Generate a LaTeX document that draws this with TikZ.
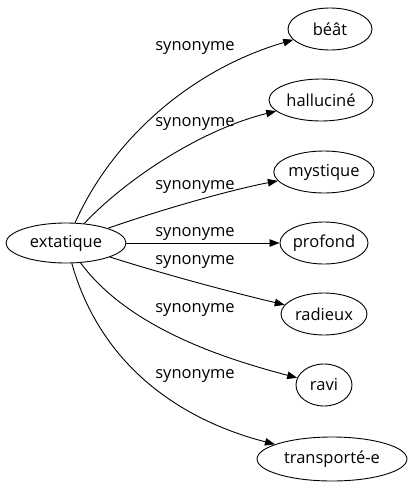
\documentclass[tikz,border=0pt]{standalone}
\usepackage{fontspec}
\setmainfont{Open Sans}
\usetikzlibrary{arrows.meta,shapes.geometric}
\begin{document}
\begin{tikzpicture}[x=1pt,y=-1pt,line width=0.9pt,
  word/.style={draw,ellipse,inner sep=0pt,font=\fontsize{16.5}{18}\selectfont},
  lbl/.style={font=\fontsize{16.5}{18}\selectfont,inner sep=0pt},
  edge/.style={draw,-{Triangle[length=10pt,width=7.5pt]}}]
\useasboundingbox (0,0) rectangle (413,491);
\node[word,minimum width=120pt,minimum height=40pt] (ext) at (66,243) {extatique};
\node[word,minimum width=84pt,minimum height=42pt] (beat) at (330,29) {béât};
\node[word,minimum width=104pt,minimum height=42pt] (hal) at (321,100) {halluciné};
\node[word,minimum width=94pt,minimum height=42pt] (mys) at (324,172) {mystique};
\node[word,minimum width=86pt,minimum height=42pt] (pro) at (324,243) {profond};
\node[word,minimum width=86pt,minimum height=42pt] (rad) at (324,314) {radieux};
\node[word,minimum width=56pt,minimum height=42pt] (ravi) at (324,385) {ravi};
\node[word,minimum width=150pt,minimum height=44pt] (tra) at (332,459) {transporté-e};
\path[edge] (ext) .. controls (112,140) and (190,70) .. (beat);
\path[edge] (ext) .. controls (125,180) and (200,130) .. (hal);
\path[edge] (ext) .. controls (160,210) and (230,190) .. (mys);
\path[edge] (ext) -- (pro);
\path[edge] (ext) .. controls (160,273) and (230,292) .. (rad);
\path[edge] (ext) .. controls (130,330) and (230,360) .. (ravi);
\path[edge] (ext) .. controls (105,380) and (200,425) .. (tra);
\node[lbl] (l1) at (195,48) {synonyme};
\node[lbl] (l2) at (195,124) {synonyme};
\node[lbl] (l3) at (195,187) {synonyme};
\node[lbl] (l4) at (195,234) {synonyme};
\node[lbl] (l5) at (195,262) {synonyme};
\node[lbl] (l6) at (195,310) {synonyme};
\node[lbl] (l7) at (195,376) {synonyme};
\end{tikzpicture}
\end{document}
